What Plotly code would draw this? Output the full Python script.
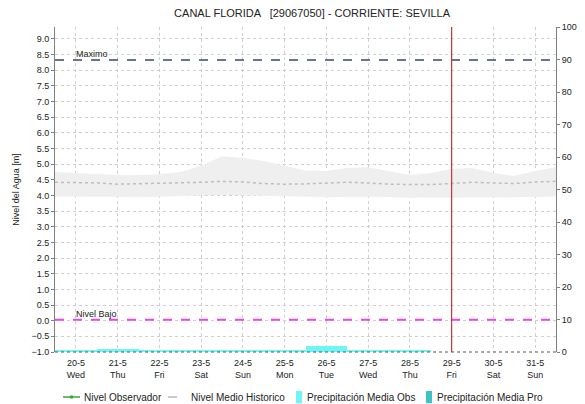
import plotly.graph_objs as go

# Datos
titulo = 'CANAL FLORIDA   [29067050] - CORRIENTE: SEVILLA'

fechas_dias = ['2015-05-%02d' % d for d in range(20, 32)]
dias_semana = ['Wed', 'Thu', 'Fri', 'Sat', 'Sun', 'Mon', 'Tue', 'Wed', 'Thu', 'Fri', 'Sat', 'Sun']
etiquetas_x = ['%d-5<br>%s' % (d, s) for d, s in zip(range(20, 32), dias_semana)]

# Banda historica (cada 12 horas)
fechas_banda = ['2015-05-19 12:00', '2015-05-20 00:00', '2015-05-20 12:00', '2015-05-21 00:00',
                '2015-05-21 12:00', '2015-05-22 00:00', '2015-05-22 12:00', '2015-05-23 00:00',
                '2015-05-23 12:00', '2015-05-24 00:00', '2015-05-24 12:00', '2015-05-25 00:00',
                '2015-05-25 12:00', '2015-05-26 00:00', '2015-05-26 12:00', '2015-05-27 00:00',
                '2015-05-27 12:00', '2015-05-28 00:00', '2015-05-28 12:00', '2015-05-29 00:00',
                '2015-05-29 12:00', '2015-05-30 00:00', '2015-05-30 12:00', '2015-05-31 00:00',
                '2015-05-31 12:00']
banda_max = [4.75, 4.72, 4.68, 4.65, 4.65, 4.68, 4.75, 4.95, 5.25, 5.2, 5.1, 4.95, 4.8,
             4.78, 4.88, 4.9, 4.78, 4.65, 4.72, 4.85, 4.88, 4.72, 4.62, 4.78, 4.9]
banda_min = [3.97, 3.96, 3.95, 3.94, 3.95, 3.96, 3.97, 4.0, 4.02, 4.0, 3.98, 3.96, 3.95,
             3.94, 3.95, 3.96, 3.95, 3.93, 3.93, 3.94, 3.95, 3.94, 3.93, 3.95, 3.97]
nivel_medio = [4.42, 4.42, 4.40, 4.36, 4.37, 4.38, 4.40, 4.42, 4.45, 4.43, 4.38, 4.36, 4.37,
               4.40, 4.42, 4.40, 4.36, 4.35, 4.35, 4.38, 4.42, 4.40, 4.38, 4.43, 4.45]

# Precipitacion diaria [mm]
fechas_precip_obs = ['2015-05-%02d' % d for d in range(20, 29)]
precip_obs = [0.5, 1.0, 0.5, 0.4, 0.5, 0.5, 1.7, 0.5, 0.5]
fechas_precip_pro = ['2015-05-29', '2015-05-30', '2015-05-31']
precip_pro = [0, 0, 0]

nivel_maximo = 8.33
nivel_bajo = 0.03
fecha_actual = '2015-05-29'

fig = go.Figure()

# Banda gris
fig.add_trace(go.Scatter(x=fechas_banda, y=banda_min, mode='lines',
                         line=dict(width=0, color='#efefef'), showlegend=False, hoverinfo='skip'))
fig.add_trace(go.Scatter(x=fechas_banda, y=banda_max, mode='lines', fill='tonexty',
                         fillcolor='#efefef', line=dict(width=0, color='#efefef'),
                         showlegend=False, hoverinfo='skip'))

fig.add_trace(go.Scatter(x=fechas_banda, y=nivel_medio, mode='lines', name='Nivel Medio Historico',
                         line=dict(color='#bdbdbd', width=1.5, dash='dot'), showlegend=False))

fig.add_trace(go.Bar(x=fechas_precip_obs, y=precip_obs, name='Precipitación Media Obs',
                     marker=dict(color='#6ff5f5', line=dict(width=0)), width=86400000,
                     yaxis='y2', showlegend=False))
fig.add_trace(go.Bar(x=fechas_precip_pro, y=precip_pro, name='Precipitación Media Pro',
                     marker=dict(color='#3cc4c4', line=dict(width=0)), width=86400000,
                     yaxis='y2', showlegend=False))

# Lineas de referencia
fig.add_shape(type='line', xref='paper', x0=0, x1=1, yref='y', y0=nivel_maximo, y1=nivel_maximo,
              line=dict(color='#68758e', width=2, dash='dash'))
fig.add_shape(type='line', xref='paper', x0=0, x1=1, yref='y', y0=nivel_bajo, y1=nivel_bajo,
              line=dict(color='#ee44ee', width=2, dash='dash'))
fig.add_shape(type='line', xref='x', x0=fecha_actual, x1=fecha_actual, yref='paper', y0=0, y1=1,
              line=dict(color='#cc3333', width=1.2))
fig.add_shape(type='line', xref='paper', x0=0, x1=1, yref='paper', y0=0, y1=0,
              line=dict(color='#555555', width=1, dash='dot'))

fig.add_annotation(x=fechas_dias[0], y=nivel_maximo, text='Maximo', showarrow=False,
                   xanchor='left', yanchor='bottom', xshift=-2, yshift=-1,
                   font=dict(size=9, color='#222222'))
fig.add_annotation(x=fechas_dias[0], y=nivel_bajo, text='Nivel Bajo', showarrow=False,
                   xanchor='left', yanchor='bottom', xshift=-2, yshift=-1,
                   font=dict(size=9, color='#222222'))

# Leyenda dibujada a mano (pixeles de la pagina; el body tiene 8px de margen)
ancho_plot = 501
alto_plot = 325
def px_x(px):
    return (px - 55) / ancho_plot
def px_y(py):
    return (352 - py) / alto_plot

y_ley = 397
fig.add_shape(type='line', xref='paper', yref='paper', x0=px_x(63), x1=px_x(80),
              y0=px_y(y_ley), y1=px_y(y_ley), line=dict(color='#33aa33', width=1.5))
fig.add_shape(type='rect', xref='paper', yref='paper', x0=px_x(70), x1=px_x(73),
              y0=px_y(y_ley - 1.5), y1=px_y(y_ley + 1.5), line=dict(width=0), fillcolor='#33aa33')
fig.add_shape(type='line', xref='paper', yref='paper', x0=px_x(168), x1=px_x(184),
              y0=px_y(y_ley), y1=px_y(y_ley), line=dict(color='#b8b8b8', width=1.5, dash='dash'))
fig.add_shape(type='rect', xref='paper', yref='paper', x0=px_x(296), x1=px_x(302),
              y0=px_y(y_ley - 6), y1=px_y(y_ley + 6), line=dict(width=0), fillcolor='#6ff5f5')
fig.add_shape(type='rect', xref='paper', yref='paper', x0=px_x(426), x1=px_x(432),
              y0=px_y(y_ley - 6), y1=px_y(y_ley + 6), line=dict(width=0), fillcolor='#3cc4c4')

for texto, px in [('Nivel Observador', 82), ('Nivel Medio Historico', 189),
                  ('Precipitación Media Obs', 305), ('Precipitación Media Pro', 435)]:
    fig.add_annotation(xref='paper', yref='paper', x=px_x(px), y=px_y(y_ley), text=texto,
                       showarrow=False, xanchor='left', yanchor='middle',
                       font=dict(size=10, color='#222222'))

fig.update_layout(
    width=577, height=396,
    margin=dict(l=47, r=29, t=19, b=52, autoexpand=False),
    title=dict(text=titulo, x=0.527, xanchor='center', y=0.987, yanchor='middle',
               font=dict(size=11, color='#222222')),
    font=dict(family='Liberation Sans, Arial, sans-serif', size=9, color='#222222'),
    plot_bgcolor='white', paper_bgcolor='white',
    barmode='overlay', bargap=0, showlegend=False,
    xaxis=dict(type='date', range=['2015-05-19 12:00', '2015-05-31 12:00'],
               tickvals=fechas_dias, ticktext=etiquetas_x, showgrid=True,
               gridcolor='#cfcfcf', griddash='dot', gridwidth=1, ticklabelstandoff=4,
               showline=False, ticks='', zeroline=False, tickfont=dict(size=9)),
    yaxis=dict(title=dict(text='Nivel del Agua [m]', font=dict(size=9), standoff=10),
               range=[-1.0, 9.38], tickvals=[i * 0.5 - 1.0 for i in range(21)],
               tickformat='.1f', showgrid=True, gridcolor='#cfcfcf', griddash='dot',
               showline=True, linecolor='#808080', ticks='outside', ticklen=3,
               tickcolor='#808080', zeroline=False, tickfont=dict(size=9)),
    yaxis2=dict(overlaying='y', side='right', range=[0, 100], tickvals=list(range(0, 101, 10)),
                showgrid=False, showline=True, linecolor='#808080', ticks='outside', ticklen=3,
                tickcolor='#808080', zeroline=False, tickfont=dict(size=9)),
)

fig.write_html('out.html')
